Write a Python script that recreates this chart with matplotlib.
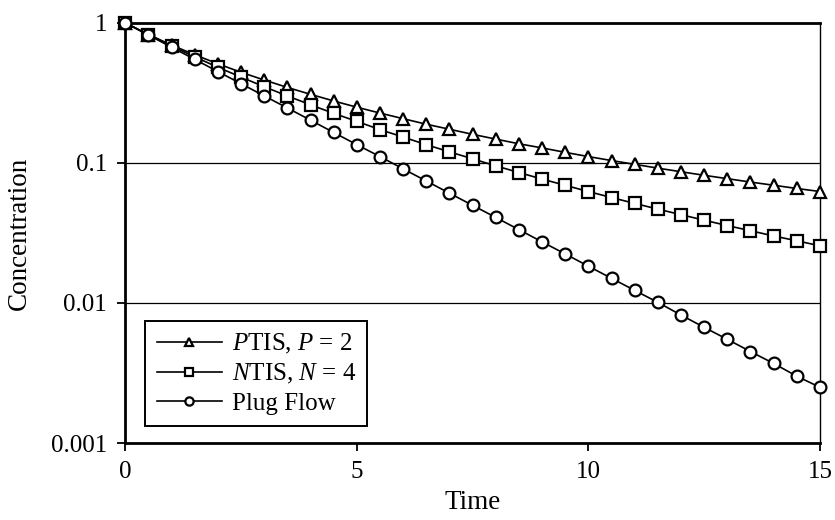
import numpy as np
import matplotlib
matplotlib.use("Agg")
import matplotlib.pyplot as plt

# ─── Data ─────────────────────────────────────────────────────────────────────
time = [0.0, 0.5, 1.0, 1.5, 2.0, 2.5, 3.0, 3.5, 4.0, 4.5, 5.0, 5.5, 6.0, 6.5,
        7.0, 7.5, 8.0, 8.5, 9.0, 9.5, 10.0, 10.5, 11.0, 11.5, 12.0, 12.5,
        13.0, 13.5, 14.0, 14.5, 15.0]

ptis = [1.0, 0.826, 0.694, 0.592, 0.510, 0.444, 0.391, 0.346, 0.309, 0.277,
        0.250, 0.227, 0.207, 0.189, 0.174, 0.160, 0.148, 0.137, 0.128, 0.119,
        0.111, 0.104, 0.0977, 0.0918, 0.0865, 0.0816, 0.0772, 0.0730, 0.0693,
        0.0657, 0.0625]

ntis = [1.0, 0.823, 0.683, 0.572, 0.482, 0.410, 0.350, 0.301, 0.260, 0.226,
        0.198, 0.173, 0.153, 0.135, 0.120, 0.107, 0.0953, 0.0854, 0.0767,
        0.0692, 0.0625, 0.0566, 0.0514, 0.0468, 0.0427, 0.0390, 0.0357,
        0.0328, 0.0301, 0.0278, 0.0256]

plug = [1.0, 0.819, 0.670, 0.549, 0.449, 0.368, 0.301, 0.247, 0.202, 0.165,
        0.135, 0.111, 0.0907, 0.0743, 0.0608, 0.0498, 0.0408, 0.0334, 0.0273,
        0.0224, 0.0183, 0.0150, 0.0123, 0.0101, 0.0082, 0.0067, 0.0055,
        0.0045, 0.0037, 0.0030, 0.0025]

series_labels = [r"$P$TIS, $P$ = 2", r"$N$TIS, $N$ = 4", "Plug Flow"]
x_ticks = [0, 5, 10, 15]
y_ticks = [0.001, 0.01, 0.1, 1]
y_ticklabels = ["0.001", "0.01", "0.1", "1"]

# ─── Style ────────────────────────────────────────────────────────────────────
plt.rcParams["font.family"] = ["Liberation Serif", "DejaVu Serif"]
plt.rcParams["mathtext.fontset"] = "custom"
plt.rcParams["mathtext.rm"] = "Liberation Serif"
plt.rcParams["mathtext.it"] = "Liberation Serif:italic"
TICK_SIZE  = 18
LABEL_SIZE = 19.5

fig = plt.figure(figsize=(8.35, 5.2), dpi=100)
ax = fig.add_axes([0.150, 0.148, 0.832, 0.808])

common = dict(color="black", linewidth=1.2, markerfacecolor="white",
              markeredgecolor="black", markeredgewidth=1.6, markersize=8.5,
              clip_on=False, zorder=3)
ax.plot(time, ptis, marker="^", label=series_labels[0], **common)
ax.plot(time, ntis, marker="s", label=series_labels[1], **common)
ax.plot(time, plug, marker="o", label=series_labels[2], **common)

ax.set_yscale("log")
ax.set_xlim(0, 15)
ax.set_ylim(0.001, 1)
ax.set_xticks(x_ticks)
ax.set_xticklabels([str(t) for t in x_ticks], fontsize=TICK_SIZE)
ax.set_yticks(y_ticks)
ax.set_yticklabels(y_ticklabels, fontsize=TICK_SIZE)
ax.yaxis.set_minor_locator(matplotlib.ticker.NullLocator())
ax.tick_params(direction="out", length=6, width=1.3, pad=7)

for yv in [0.01, 0.1]:
    ax.axhline(yv, color="black", linewidth=0.9, zorder=1)

ax.spines["left"].set_linewidth(2.0)
ax.spines["bottom"].set_linewidth(2.0)
ax.spines["top"].set_linewidth(2.0)
ax.spines["right"].set_linewidth(1.0)

ax.set_xlabel("Time", fontsize=LABEL_SIZE, labelpad=5)
ax.set_ylabel("Concentration", fontsize=LABEL_SIZE, labelpad=14)

leg = ax.legend(loc="lower left", bbox_to_anchor=(0.029, 0.040),
                fontsize=TICK_SIZE, frameon=True, fancybox=False,
                edgecolor="black", framealpha=1, markerscale=0.7,
                handlelength=2.6, handletextpad=0.4, borderpad=0.45,
                labelspacing=0.25, borderaxespad=0)
leg.get_frame().set_linewidth(1.4)

fig.savefig("out.png", dpi=100)
